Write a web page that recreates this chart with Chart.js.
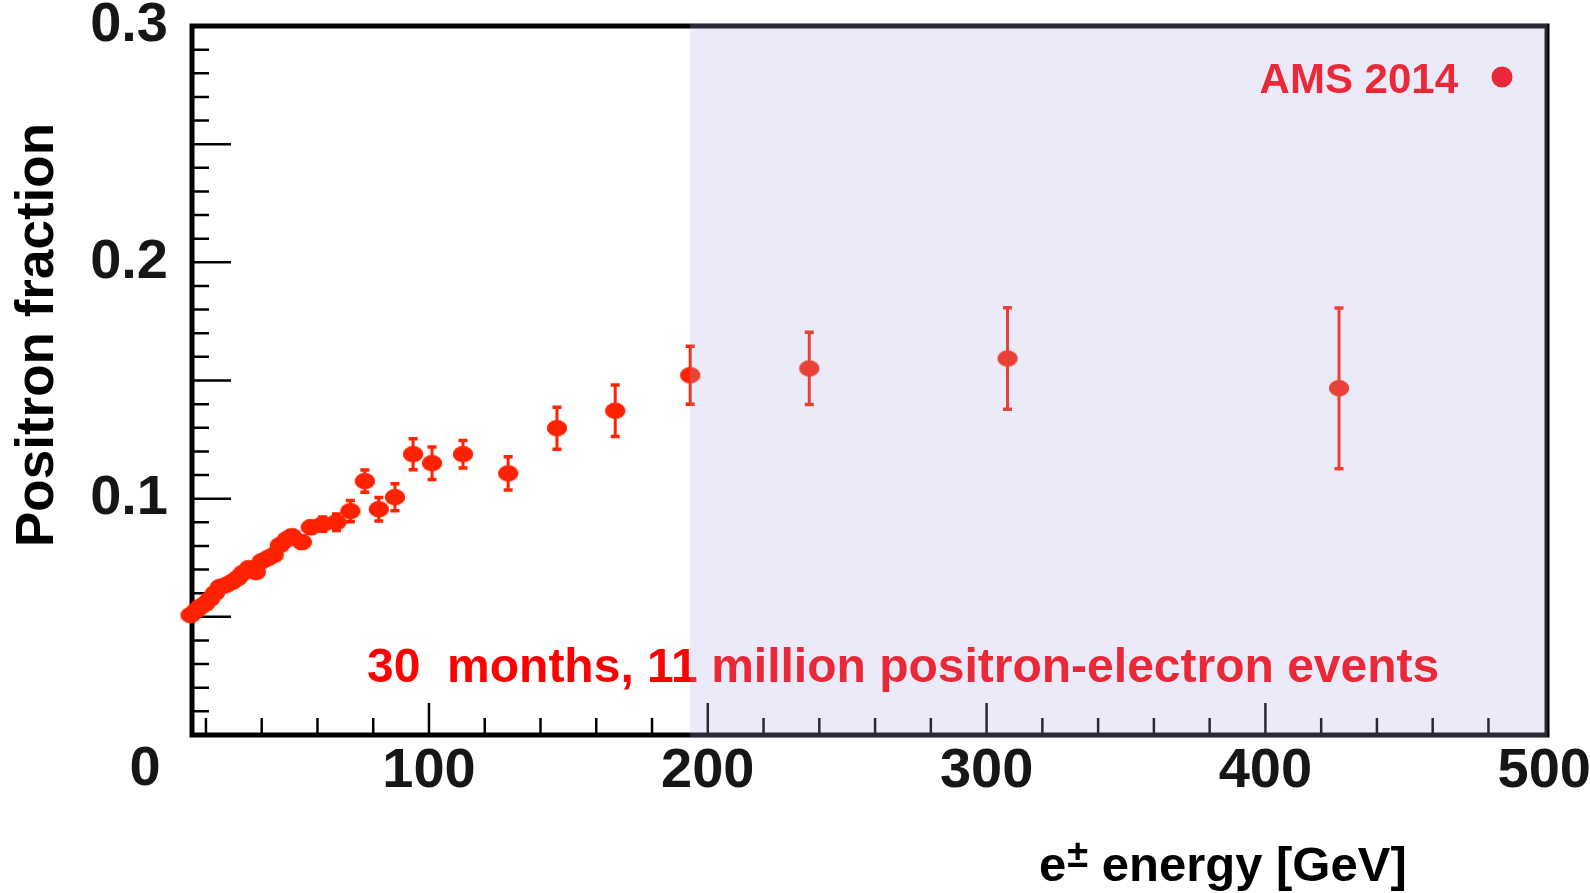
<!DOCTYPE html>
<html><head><meta charset="utf-8">
<script src="https://cdn.jsdelivr.net/npm/chart.js@4.4.1/dist/chart.umd.min.js"></script>
<style>html,body{margin:0;padding:0;background:#fff;}#wrap{width:1590px;height:893px;}</style>
</head><body><div id="wrap"><canvas id="c" width="1590" height="893"></canvas></div>
<script>
// ---- data ----
const energy = [14.5, 16.3, 17.8, 19.6, 21.4, 23.2, 25.0, 27.1, 29.3, 31.4, 33.2, 35.4, 37.9, 40.0, 42.2, 44.3, 46.5, 49.0, 50.8, 54.4, 57.6, 61.9, 66.8, 71.8, 77.0, 82.0, 87.8, 94.3, 101.1, 112.2, 128.4, 145.9, 166.8, 193.7, 236.4, 307.5, 426.4];
const fraction = [0.0507, 0.0524, 0.0541, 0.0554, 0.0575, 0.0600, 0.0626, 0.0634, 0.0647, 0.0664, 0.0685, 0.0706, 0.0689, 0.0735, 0.0748, 0.0761, 0.0803, 0.0828, 0.0841, 0.0816, 0.0879, 0.0892, 0.0900, 0.0947, 0.1074, 0.0955, 0.1006, 0.1188, 0.1150, 0.1188, 0.1107, 0.1298, 0.1372, 0.1522, 0.1551, 0.1593, 0.1467];
const fractionErr = [0.0015, 0.0015, 0.0015, 0.0015, 0.0015, 0.0015, 0.0015, 0.0016, 0.0016, 0.0017, 0.0017, 0.0018, 0.0018, 0.0019, 0.0019, 0.002, 0.002, 0.0021, 0.0022, 0.0025, 0.0025, 0.003, 0.0035, 0.0045, 0.0047, 0.005, 0.0057, 0.0066, 0.0069, 0.0058, 0.007, 0.0089, 0.0109, 0.0123, 0.0153, 0.0215, 0.034];
const xTickLabels = [100, 200, 300, 400, 500];
const yTickLabels = [0.1, 0.2, 0.3];
const yZeroLabel = '0';
const seriesLabel = 'AMS 2014';
const annotationText = '30  months, 11 million positron-electron events';
const xTitleParts = ['e', '\u00B1', ' energy [GeV]'];
const yTitle = 'Positron fraction';
const shadeFrom = 193.6;

const RED = '#ff2200';
const SANS = "'Liberation Sans', Arial, Helvetica, sans-serif";

// pick a narrow bold face for tick numbers if one is installed
function pickTickFont() {
  const g = document.createElement('canvas').getContext('2d');
  const w = f => { g.font = f; return g.measureText('0.3 100').width; };
  const mono = w('60px monospace');
  const cands = [
    {weight: 'bold', family: "'Liberation Sans Narrow'"},
    {weight: 'bold', family: "'Arial Narrow'"},
    {weight: 'condensed bold', family: "'Noto Sans'"},
    {weight: 'semi-condensed bold', family: "'Noto Sans'"}
  ];
  const ref = w("bold 60px 'Liberation Sans', monospace");
  for (const c of cands) {
    const wc = w(c.weight + ' 60px ' + c.family + ', monospace');
    if (Math.abs(wc - mono) > 1 && wc < ref * 0.93) {
      g.font = c.weight + ' 60px ' + c.family + ', monospace';
      const w100 = g.measureText('100').width;
      let size = 60 * 86 / w100;
      size = Math.max(56, Math.min(64, size));
      return {family: c.family + ", 'Liberation Sans', sans-serif", weight: c.weight, size: Math.round(size)};
    }
  }
  return {family: SANS, weight: 'bold', size: 56};
}
const tickFont = pickTickFont();

function makeMarker(color) {
  const c = document.createElement('canvas');
  c.width = 22; c.height = 18;
  const g = c.getContext('2d');
  g.fillStyle = color;
  g.beginPath(); g.ellipse(11, 9, 10.2, 8.2, 0, 0, Math.PI * 2); g.fill();
  return c;
}

const decor = {
  id: 'decor',
  beforeDatasetsDraw(chart) {
    const {ctx, chartArea: a, scales: {x, y}} = chart;
    ctx.save();
    ctx.strokeStyle = '#000'; ctx.lineWidth = 2.5;
    ctx.beginPath();
    for (let v = 20; v < 500; v += 20) {
      const px = x.getPixelForValue(v);
      const len = (v % 100 === 0) ? 32 : 17;
      ctx.moveTo(px, a.bottom); ctx.lineTo(px, a.bottom - len);
    }
    for (let k = 1; k < 30; k++) {
      const py = y.getPixelForValue(k / 100);
      const len = (k % 5 === 0) ? 39 : 17;
      ctx.moveTo(a.left, py); ctx.lineTo(a.left + len, py);
    }
    ctx.stroke();
    ctx.lineWidth = 5;
    ctx.strokeRect(a.left, a.top, a.right - a.left, a.bottom - a.top);
    // error bars
    ctx.strokeStyle = RED;
    for (let i = 0; i < energy.length; i++) {
      const px = x.getPixelForValue(energy[i]);
      const yt = y.getPixelForValue(fraction[i] + fractionErr[i]);
      const yb = y.getPixelForValue(fraction[i] - fractionErr[i]);
      ctx.lineWidth = 3;
      ctx.beginPath(); ctx.moveTo(px, yt); ctx.lineTo(px, yb); ctx.stroke();
      ctx.lineWidth = 3.5;
      ctx.beginPath();
      ctx.moveTo(px - 4.5, yt); ctx.lineTo(px + 4.5, yt);
      ctx.moveTo(px - 4.5, yb); ctx.lineTo(px + 4.5, yb);
      ctx.stroke();
    }
    // annotation
    ctx.fillStyle = '#ff0000';
    ctx.font = 'bold 48px ' + SANS;
    ctx.textAlign = 'left'; ctx.textBaseline = 'alphabetic';
    ctx.fillText(annotationText, 367, 682);
    // legend
    ctx.font = 'bold 42px ' + SANS;
    ctx.textAlign = 'right';
    ctx.fillText(seriesLabel, 1458, 93);
    ctx.beginPath(); ctx.arc(1502, 77, 10.5, 0, Math.PI * 2); ctx.fill();
    ctx.restore();
  },
  afterDatasetsDraw(chart) {
    const {ctx, chartArea: a, scales: {x}} = chart;
    ctx.save();
    ctx.fillStyle = 'rgba(167,167,230,0.24)';
    const x0 = x.getPixelForValue(shadeFrom);
    ctx.fillRect(x0, a.top - 2.5, a.right + 0.5 - x0, a.bottom - a.top + 5);
    ctx.restore();
  },
  afterDraw(chart) {
    const {ctx} = chart;
    ctx.save();
    ctx.fillStyle = '#161616';
    ctx.font = tickFont.weight + ' ' + tickFont.size + 'px ' + tickFont.family;
    ctx.textAlign = 'center'; ctx.textBaseline = 'alphabetic';
    ctx.fillText(yZeroLabel, 145, 785);
    // y title
    ctx.fillStyle = '#000';
    ctx.font = 'bold 53px ' + SANS;
    ctx.translate(53, 335); ctx.rotate(-Math.PI / 2);
    ctx.textAlign = 'center';
    ctx.fillText(yTitle, 0, 0);
    ctx.setTransform(1, 0, 0, 1, 0, 0);
    // x title
    let cx = 1039;
    const base = 881;
    ctx.textAlign = 'left';
    ctx.font = 'bold 49px ' + SANS;
    ctx.fillText(xTitleParts[0], cx, base); cx += ctx.measureText(xTitleParts[0]).width + 1;
    ctx.font = 'bold 38px ' + SANS;
    ctx.fillText(xTitleParts[1], cx, base - 14); cx += ctx.measureText(xTitleParts[1]).width;
    ctx.font = 'bold 49px ' + SANS;
    ctx.fillText(xTitleParts[2], cx, base);
    ctx.restore();
  }
};

new Chart(document.getElementById('c'), {
  type: 'scatter',
  data: {
    datasets: [{
      label: seriesLabel,
      data: energy.map((e, i) => ({x: e, y: fraction[i]})),
      pointStyle: makeMarker(RED),
      pointRadius: 9, pointHoverRadius: 9,
      backgroundColor: RED, borderColor: RED, borderWidth: 0,
      showLine: false, clip: false
    }]
  },
  options: {
    responsive: false, devicePixelRatio: 1, animation: false,
    layout: {padding: {left: 0, top: 26, right: 43, bottom: 0}},
    plugins: {legend: {display: false}, tooltip: {enabled: false}},
    events: [],
    scales: {
      x: {
        type: 'linear', min: 15, max: 501,
        grid: {display: false, drawTicks: false}, border: {display: false},
        ticks: {
          stepSize: 100, includeBounds: false, autoSkip: false, maxRotation: 0, minRotation: 0,
          padding: 3, color: '#161616', font: tickFont,
          callback: v => xTickLabels.includes(v) ? String(v) : ''
        },
        afterFit: s => { s.height = 158; s.paddingLeft = 0; s.paddingRight = 0; }
      },
      y: {
        type: 'linear', min: 0, max: 0.3,
        grid: {display: false, drawTicks: false}, border: {display: false},
        ticks: {
          stepSize: 0.1, autoSkip: false, padding: 24, color: '#161616', font: tickFont,
          callback: v => {
            const m = yTickLabels.find(t => Math.abs(t - v) < 1e-6);
            return m === undefined ? '' : m.toFixed(1);
          }
        },
        afterFit: s => { s.width = 192; s.paddingTop = 0; s.paddingBottom = 0; }
      }
    }
  },
  plugins: [decor]
});
</script>
</body></html>
